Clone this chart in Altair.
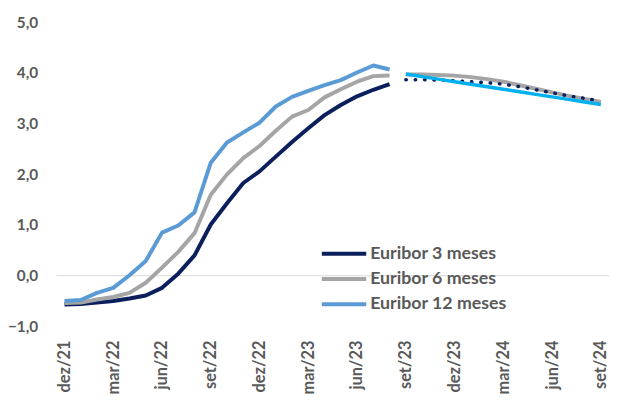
import altair as alt
import pandas as pd

meses = ["dez/21", "jan/22", "fev/22", "mar/22", "abr/22", "mai/22", "jun/22", "jul/22",
         "ago/22", "set/22", "out/22", "nov/22", "dez/22", "jan/23", "fev/23", "mar/23",
         "abr/23", "mai/23", "jun/23", "jul/23", "ago/23", "set/23", "out/23", "nov/23",
         "dez/23", "jan/24", "fev/24", "mar/24", "abr/24", "mai/24", "jun/24", "jul/24",
         "ago/24", "set/24"]
rotulos_x = ["dez/21", "mar/22", "jun/22", "set/22", "dez/22", "mar/23", "jun/23",
             "set/23", "dez/23", "mar/24", "jun/24", "set/24"]

hist_meses = meses[:21]
euribor_3m = [-0.57, -0.56, -0.53, -0.50, -0.45, -0.39, -0.24, 0.04, 0.40, 1.01, 1.43,
              1.83, 2.06, 2.35, 2.64, 2.91, 3.17, 3.37, 3.54, 3.67, 3.78]
euribor_6m = [-0.54, -0.53, -0.47, -0.42, -0.34, -0.14, 0.16, 0.47, 0.84, 1.60, 2.00,
              2.32, 2.56, 2.86, 3.14, 3.27, 3.52, 3.68, 3.83, 3.94, 3.95]
euribor_12m = [-0.50, -0.48, -0.34, -0.24, 0.01, 0.29, 0.85, 0.99, 1.25, 2.23, 2.63,
               2.83, 3.02, 3.34, 3.53, 3.65, 3.76, 3.86, 4.01, 4.15, 4.07]

prev_meses = meses[21:]
prev_3m = [3.87, 3.87, 3.86, 3.85, 3.83, 3.81, 3.78, 3.73, 3.67, 3.61, 3.55, 3.50, 3.45]
prev_6m = [3.97, 3.97, 3.96, 3.95, 3.92, 3.88, 3.83, 3.76, 3.69, 3.62, 3.55, 3.49, 3.43]
prev_12m = [3.98, 3.93, 3.88, 3.83, 3.78, 3.73, 3.68, 3.63, 3.58, 3.53, 3.48, 3.43, 3.38]

series = ["Euribor 3 meses", "Euribor 6 meses", "Euribor 12 meses"]
cores = ["#0B1F5C", "#A5A5A5", "#5B9BD5"]

FONT = "Lato"
TXT = "#595959"

hist = pd.concat([
    pd.DataFrame({"mes": hist_meses, "valor": euribor_3m, "serie": series[0], "ordem": 0}),
    pd.DataFrame({"mes": hist_meses, "valor": euribor_6m, "serie": series[1], "ordem": 1}),
    pd.DataFrame({"mes": hist_meses, "valor": euribor_12m, "serie": series[2], "ordem": 2}),
])

xenc = alt.X("mes:N", sort=meses,
             scale=alt.Scale(domain=meses, type="point", padding=0.5),
             axis=alt.Axis(values=rotulos_x, labelAngle=-90, title=None, domain=False,
                           ticks=False, grid=False, labelPadding=14, labelFont=FONT,
                           labelFontSize=16.5, labelFontWeight="bold", labelColor=TXT))
yenc = alt.Y("valor:Q", scale=alt.Scale(domain=[-1, 5], nice=False, zero=False),
             axis=alt.Axis(values=[-1, 0, 1, 2, 3, 4, 5], title=None, domain=False,
                           ticks=False, grid=False, labelPadding=19, labelFont=FONT,
                           labelFontSize=15.5, labelFontWeight="bold", labelColor=TXT,
                           labelExpr="replace(format(datum.value, '.1f'), '.', ',')"))

zero = alt.Chart(pd.DataFrame({"valor": [0]})).mark_rule(color="#D9D9D9", strokeWidth=1).encode(
    y=alt.Y("valor:Q", scale=alt.Scale(domain=[-1, 5], nice=False, zero=False)))

linhas = alt.Chart(hist).mark_line(strokeWidth=4, strokeJoin="round").encode(
    x=xenc, y=yenc,
    color=alt.Color("serie:N", sort=series,
                    scale=alt.Scale(domain=series, range=cores),
                    legend=alt.Legend(orient="none", legendX=282, legendY=225, title=None,
                                      symbolType="M-3,0H3", symbolSize=225,
                                      symbolStrokeWidth=4, labelFont=FONT,
                                      labelFontSize=18, labelFontWeight="bold",
                                      labelColor=TXT, rowPadding=6.5, labelOffset=17)),
    order="ordem:Q",
)

f6 = alt.Chart(pd.DataFrame({"mes": prev_meses, "valor": prev_6m})).mark_line(
    strokeWidth=4, color="#A5A5A5").encode(x=xenc, y=yenc)
f3 = alt.Chart(pd.DataFrame({"mes": prev_meses, "valor": prev_3m})).mark_line(
    strokeWidth=3.5, color="#0B1F5C", strokeDash=[0.5, 9], strokeCap="round").encode(x=xenc, y=yenc)
f12 = alt.Chart(pd.DataFrame({"mes": prev_meses, "valor": prev_12m})).mark_line(
    strokeWidth=3.5, color="#00B0F0").encode(x=xenc, y=yenc)

chart = alt.layer(zero, linhas, f6, f3, f12).properties(
    width=560, height=308,
    autosize=alt.AutoSizeParams(type="none"),
    padding={"left": 49, "top": 12, "right": 0, "bottom": 70},
    background="white",
).configure_view(stroke=None)

chart.save("out.html", embed_options={"renderer": "svg", "actions": False})
